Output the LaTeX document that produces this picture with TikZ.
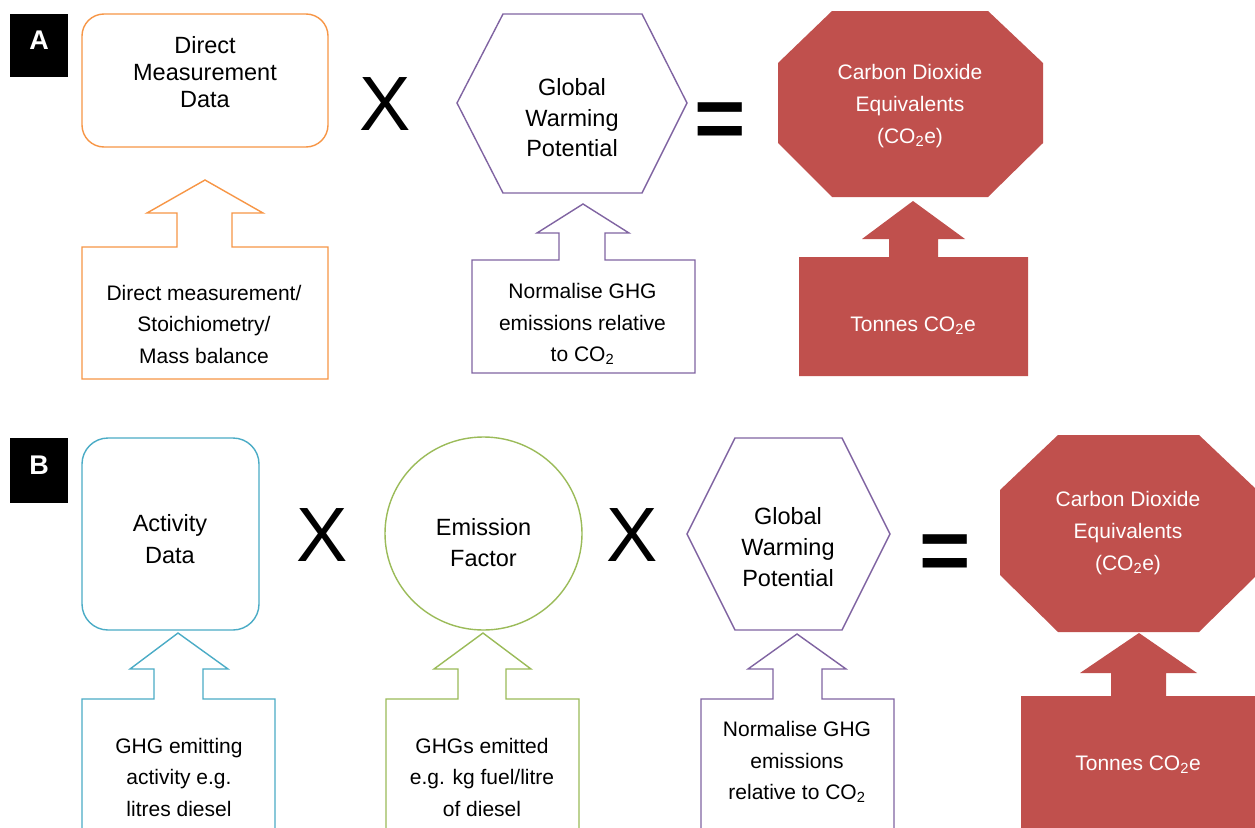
\documentclass[tikz,border=0pt]{standalone}
\usepackage{fontspec}
\setmainfont{Liberation Sans}
\usetikzlibrary{shapes.geometric}
\definecolor{accorange}{HTML}{F79646}
\definecolor{accpurple}{HTML}{8064A2}
\definecolor{accblue}{HTML}{4BACC6}
\definecolor{accgreen}{HTML}{9BBB59}
\definecolor{accred}{HTML}{C0504D}
\tikzset{
  outline/.style={line width=1.4pt, line join=miter, fill=white},
  solidred/.style={fill=accred, draw=none},
  lbl/.style={inner sep=0pt, align=center, font=\fontsize{23.5}{31}\selectfont},
  note/.style={inner sep=0pt, align=center, font=\fontsize{21}{31.5}\selectfont},
  wnote/.style={note, text=white},
  oper/.style={inner sep=0pt, font=\fontsize{77}{77}\selectfont},
  eqsign/.style={inner sep=0pt, font=\bfseries\fontsize{88}{88}\selectfont},
  panelbox/.style={fill=black, draw=none, inner sep=0pt},
  panelletter/.style={inner sep=0pt, text=white, font=\bfseries\fontsize{27}{27}\selectfont}
}
\begin{document}
\begin{tikzpicture}[x=1pt,y=-1pt]
\clip (0,0) rectangle (1255,827);
\fill[white] (0,0) rectangle (1255,827);

% ---------------- Panel A ----------------
\node[panelbox, minimum width=58pt, minimum height=63pt] (pA) at (39,45.5) {};
\node[panelletter] (lA) at (39,40) {A};

% direct measurement data
\node[draw=accorange, outline, rounded corners=22pt, minimum width=246pt, minimum height=133pt] (dmd) at (205,80.5) {};
\node[lbl, font=\fontsize{23.5}{27}\selectfont] (dmdt) at (205,72) {Direct\\Measurement\\Data};

% callout under it
\draw[accorange, outline] (82,379) -- (82,247) -- (177,247) -- (177,213) -- (147,213) -- (205,180)
  -- (263,213) -- (232,213) -- (232,247) -- (328,247) -- (328,379) -- cycle;
\node[note] (dmdn) at (204,324) {Direct measurement/\\Stoichiometry/\\Mass balance};

\node[oper] (xA) at (385,104) {X};

% global warming potential
\draw[accpurple, outline] (457,103) -- (503,14) -- (642,14) -- (687,103) -- (642,193) -- (503,193) -- cycle;
\node[lbl, font=\fontsize{23.5}{30.5}\selectfont] (gwpA) at (572,118) {Global\\Warming\\Potential};

\draw[accpurple, outline] (472,373) -- (472,260) -- (559,260) -- (559,233) -- (537,233) -- (583,204)
  -- (629,233) -- (605,233) -- (605,260) -- (695,260) -- (695,373) -- cycle;
\node[note] (gwpAn) at (582.5,324) {Normalise GHG\\emissions relative\\to CO\textsubscript{2}};

\node[eqsign] (eqA) at (720,125.5) {=};

% carbon dioxide equivalents
\fill[solidred] (832,11) -- (988,11) -- (1043,63) -- (1043,143) -- (988,197) -- (832,197) -- (778,143) -- (778,63) -- cycle;
\node[wnote, font=\fontsize{21}{32}\selectfont] (co2A) at (910,106) {Carbon Dioxide\\Equivalents\\(CO\textsubscript{2}e)};

\fill[solidred] (799,376) -- (799,257) -- (889,257) -- (889,239) -- (862,239) -- (913,201)
  -- (965,239) -- (938,239) -- (938,257) -- (1028,257) -- (1028,376) -- cycle;
\node[wnote] (tonA) at (913,325.5) {Tonnes CO\textsubscript{2}e};

% ---------------- Panel B ----------------
\node[panelbox, minimum width=58pt, minimum height=65pt] (pB) at (39,470.5) {};
\node[panelletter] (lB) at (39,465) {B};

% activity data
\node[draw=accblue, outline, rounded corners=26pt, minimum width=177pt, minimum height=192pt] (act) at (170.5,534) {};
\node[lbl, font=\fontsize{23.5}{32}\selectfont] (actt) at (170,539.5) {Activity\\Data};

\draw[accblue, outline] (82,840) -- (82,699) -- (154,699) -- (154,669) -- (130,669) -- (178,633)
  -- (228,669) -- (203,669) -- (203,699) -- (275,699) -- (275,840) -- cycle;
\node[note] (actn) at (179,777) {GHG emitting\\activity e.g.\\litres diesel};

\node[oper] (xB1) at (322,535) {X};

% emission factor
\node[draw=accgreen, outline, ellipse, minimum width=197pt, minimum height=193pt] (ef) at (483.5,533.5) {};
\node[lbl] (eft) at (483.5,543) {Emission\\Factor};

\draw[accgreen, outline] (386,840) -- (386,699) -- (458,699) -- (458,669) -- (434,669) -- (483,633)
  -- (531,669) -- (506,669) -- (506,699) -- (579,699) -- (579,840) -- cycle;
\node[note] (efn) at (482,777) {GHGs emitted\\e.g. kg fuel/litre\\of diesel};

\node[oper] (xB2) at (632,535) {X};

% global warming potential
\draw[accpurple, outline] (687,534) -- (735,438) -- (842,438) -- (890,534) -- (842,630) -- (735,630) -- cycle;
\node[lbl] (gwpB) at (788,547) {Global\\Warming\\Potential};

\draw[accpurple, outline] (701,840) -- (701,699) -- (773,699) -- (773,669) -- (748,669) -- (797,634)
  -- (846,669) -- (822,669) -- (822,699) -- (894,699) -- (894,840) -- cycle;
\node[note] (gwpBn) at (797,762) {Normalise GHG\\emissions\\relative to CO\textsubscript{2}};

\node[eqsign] (eqB) at (945,557.5) {=};

% carbon dioxide equivalents
\fill[solidred] (1058,435) -- (1199,435) -- (1257,490) -- (1257,575) -- (1199,632) -- (1058,632) -- (1000,575) -- (1000,490) -- cycle;
\node[wnote, font=\fontsize{21}{32}\selectfont] (co2B) at (1128,533) {Carbon Dioxide\\Equivalents\\(CO\textsubscript{2}e)};

\fill[solidred] (1021,840) -- (1021,696) -- (1111,696) -- (1111,673) -- (1080,673) -- (1139,633)
  -- (1197,673) -- (1166,673) -- (1166,696) -- (1260,696) -- (1260,840) -- cycle;
\node[wnote] (tonB) at (1138,764.5) {Tonnes CO\textsubscript{2}e};
\end{tikzpicture}
\end{document}
